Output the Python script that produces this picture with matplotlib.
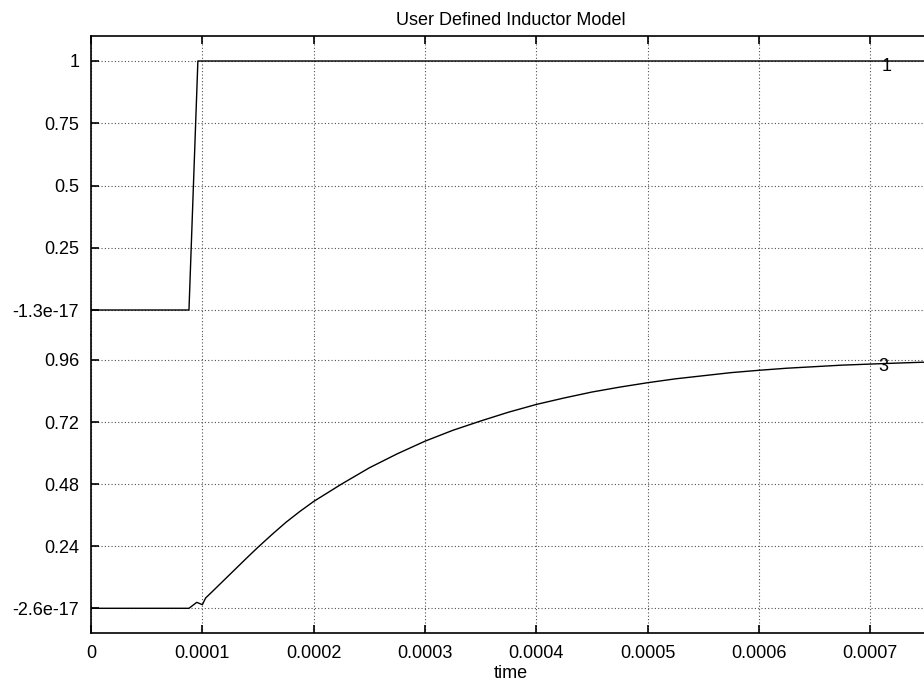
import matplotlib
matplotlib.use("Agg")
import matplotlib.pyplot as plt
from matplotlib.ticker import FixedLocator, FixedFormatter

plt.rcParams['font.family'] = ['Liberation Sans', 'DejaVu Sans']

# ---- data ----
title = "User Defined Inductor Model"
xlabel = "time"

x_ticks = [0, 0.0001, 0.0002, 0.0003, 0.0004, 0.0005, 0.0006, 0.0007]
x_tick_labels = ["0", "0.0001", "0.0002", "0.0003", "0.0004", "0.0005", "0.0006", "0.0007"]

upper_ticks = [0, 0.25, 0.5, 0.75, 1.0]
upper_tick_labels = ["-1.3e-17", "0.25", "0.5", "0.75", "1"]
lower_ticks = [0, 0.24, 0.48, 0.72, 0.96]
lower_tick_labels = ["-2.6e-17", "0.24", "0.48", "0.72", "0.96"]

# signal 1 (step input)
t1 = [0, 0.000088, 0.000096, 0.00076]
v1 = [0, 0, 1, 1]

# signal 3 (inductor current response)
t3 = [0, 0.000088, 0.000095, 0.0001, 0.000103, 0.00011, 0.00012, 0.00013,
      0.00014, 0.00015, 0.0001625, 0.000175, 0.0001875, 0.0002, 0.000225,
      0.00025, 0.000275, 0.0003, 0.000325, 0.00035, 0.000375, 0.0004,
      0.000425, 0.00045, 0.000475, 0.0005, 0.000525, 0.00055, 0.000575,
      0.0006, 0.000625, 0.00065, 0.000675, 0.0007, 0.000725, 0.00076]
v3 = [0, 0, 0.023, 0.014, 0.040, 0.069, 0.111, 0.153,
      0.195, 0.236, 0.285, 0.332, 0.374, 0.413, 0.480,
      0.543, 0.597, 0.646, 0.688, 0.724, 0.758, 0.788,
      0.813, 0.836, 0.855, 0.872, 0.887, 0.899, 0.911,
      0.920, 0.928, 0.934, 0.940, 0.944, 0.948, 0.953]

label1 = "1"
label3 = "3"

# ---- figure ----
W, H = 924, 686
fig = plt.figure(figsize=(W / 100, H / 100), dpi=100)

left = 91 / W
width = 840 / W
ax_top = fig.add_axes([left, (H - 335) / H, width, 299 / H])
ax_bot = fig.add_axes([left, (H - 633) / H, width, 298 / H])

FS = 13
grid_kw = dict(color='#505050', linestyle=(0, (1, 2)), linewidth=0.8)

for ax in (ax_top, ax_bot):
    ax.set_xlim(0, 0.0007545)
    ax.xaxis.set_major_locator(FixedLocator(x_ticks))
    ax.grid(True, **grid_kw)
    ax.spines['right'].set_visible(False)
    for s in ('left', 'top', 'bottom'):
        ax.spines[s].set_linewidth(1.2)
    ax.tick_params(direction='in', length=6, width=1.2, labelsize=FS, pad=8.5)
    ax.set_axisbelow(True)

ax_top.set_ylim(-0.1004, 1.1004)
ax_top.yaxis.set_major_locator(FixedLocator(upper_ticks))
ax_top.yaxis.set_major_formatter(FixedFormatter(upper_tick_labels))
ax_top.spines['bottom'].set_visible(False)
ax_top.tick_params(axis='x', bottom=False, top=True, labelbottom=False, labeltop=False)

ax_bot.set_ylim(-0.0955, 1.0564)
ax_bot.yaxis.set_major_locator(FixedLocator(lower_ticks))
ax_bot.yaxis.set_major_formatter(FixedFormatter(lower_tick_labels))
ax_bot.spines['top'].set_visible(False)
ax_bot.xaxis.set_major_formatter(FixedFormatter(x_tick_labels))
ax_bot.tick_params(axis='x', bottom=True, top=False)

ax_top.plot(t1, v1, color='black', linewidth=1.0)
ax_bot.plot(t3, v3, color='black', linewidth=1.0)

ax_top.annotate(label1, xy=(0.0007, 1), xytext=(8, -4), textcoords='offset points',
                ha='left', va='center', fontsize=FS)
ax_bot.annotate(label3, xy=(0.0007, 0.944), xytext=(6, -2), textcoords='offset points',
                ha='left', va='center', fontsize=FS)

ax_top.set_title(title, fontsize=FS, pad=8)
ax_bot.set_xlabel(xlabel, fontsize=FS, labelpad=2)

fig.savefig("out.png", dpi=100)
